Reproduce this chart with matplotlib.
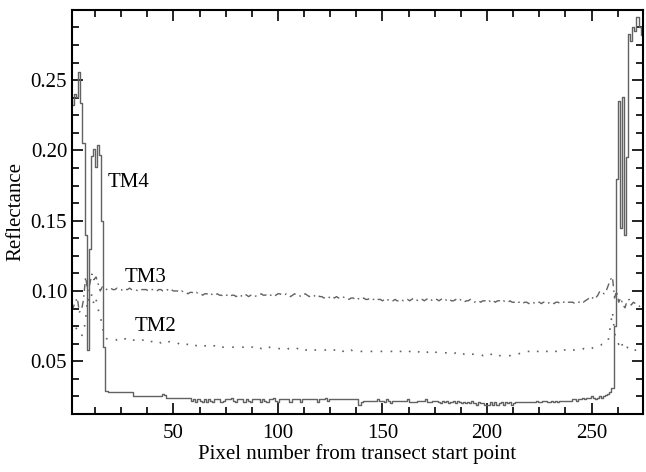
import matplotlib
matplotlib.use("Agg")
import matplotlib.pyplot as plt
from matplotlib.ticker import MultipleLocator

plt.rcParams['font.family'] = ['Liberation Serif', 'DejaVu Serif']

pixel = list(range(1, 275))

tm4 = [
    0.236, 0.232, 0.240, 0.238, 0.256, 0.234, 0.205, 0.140, 0.058, 0.130,
    0.196, 0.201, 0.188, 0.204, 0.197, 0.150, 0.060, 0.029, 0.028, 0.028,
    0.028, 0.028, 0.028, 0.028, 0.028, 0.028, 0.028, 0.028, 0.028, 0.028,
    0.025, 0.025, 0.025, 0.025, 0.025, 0.025, 0.025, 0.025, 0.025, 0.025,
    0.025, 0.025, 0.025, 0.025, 0.027, 0.026, 0.024, 0.024, 0.024, 0.024,
    0.024, 0.024, 0.024, 0.024, 0.024, 0.024, 0.024, 0.024, 0.022, 0.023,
    0.021, 0.023, 0.022, 0.021, 0.023, 0.021, 0.023, 0.022, 0.021, 0.023,
    0.023, 0.023, 0.021, 0.022, 0.023, 0.023, 0.023, 0.024, 0.022, 0.021,
    0.023, 0.023, 0.023, 0.021, 0.023, 0.022, 0.021, 0.023, 0.023, 0.023,
    0.023, 0.021, 0.023, 0.022, 0.021, 0.023, 0.023, 0.024, 0.022, 0.021,
    0.023, 0.023, 0.023, 0.023, 0.023, 0.021, 0.023, 0.023, 0.023, 0.023,
    0.021, 0.023, 0.023, 0.023, 0.023, 0.023, 0.023, 0.023, 0.021, 0.023,
    0.023, 0.023, 0.024, 0.022, 0.023, 0.023, 0.023, 0.023, 0.023, 0.023,
    0.023, 0.023, 0.023, 0.023, 0.023, 0.023, 0.023, 0.023, 0.019, 0.021,
    0.022, 0.022, 0.022, 0.022, 0.022, 0.022, 0.022, 0.023, 0.022, 0.022,
    0.021, 0.023, 0.022, 0.020, 0.022, 0.022, 0.022, 0.022, 0.022, 0.022,
    0.022, 0.023, 0.021, 0.021, 0.021, 0.021, 0.022, 0.022, 0.022, 0.022,
    0.023, 0.021, 0.021, 0.022, 0.022, 0.022, 0.021, 0.020, 0.022, 0.021,
    0.022, 0.020, 0.021, 0.022, 0.020, 0.022, 0.021, 0.020, 0.021, 0.020,
    0.021, 0.020, 0.022, 0.020, 0.019, 0.021, 0.020, 0.020, 0.019, 0.019,
    0.019, 0.021, 0.019, 0.021, 0.019, 0.020, 0.021, 0.019, 0.021, 0.020,
    0.021, 0.019, 0.020, 0.021, 0.021, 0.021, 0.021, 0.021, 0.021, 0.021,
    0.021, 0.021, 0.021, 0.022, 0.021, 0.021, 0.022, 0.022, 0.021, 0.021,
    0.022, 0.021, 0.022, 0.021, 0.022, 0.022, 0.022, 0.022, 0.022, 0.022,
    0.023, 0.023, 0.022, 0.023, 0.023, 0.024, 0.023, 0.024, 0.024, 0.025,
    0.024, 0.023, 0.024, 0.025, 0.024, 0.025, 0.026, 0.027, 0.028, 0.031,
    0.075, 0.180, 0.235, 0.145, 0.238, 0.140, 0.195, 0.283, 0.278, 0.288,
    0.285, 0.295, 0.288, 0.282,
]

tm3 = [
    0.090, 0.088, 0.092, 0.095, 0.085, 0.086, 0.094, 0.110, 0.100, 0.105,
    0.112, 0.108, 0.110, 0.105, 0.100, 0.103, 0.102, 0.101, 0.102, 0.102,
    0.101, 0.101, 0.102, 0.101, 0.101, 0.100, 0.101, 0.101, 0.102, 0.101,
    0.101, 0.101, 0.100, 0.101, 0.101, 0.101, 0.101, 0.100, 0.101, 0.101,
    0.101, 0.100, 0.101, 0.101, 0.100, 0.100, 0.101, 0.100, 0.101, 0.100,
    0.100, 0.100, 0.099, 0.100, 0.099, 0.099, 0.098, 0.099, 0.099, 0.098,
    0.099, 0.098, 0.098, 0.097, 0.098, 0.098, 0.097, 0.098, 0.097, 0.097,
    0.098, 0.097, 0.097, 0.096, 0.097, 0.097, 0.096, 0.097, 0.097, 0.096,
    0.097, 0.096, 0.097, 0.098, 0.097, 0.096, 0.097, 0.097, 0.096, 0.097,
    0.097, 0.098, 0.097, 0.097, 0.098, 0.097, 0.097, 0.096, 0.097, 0.098,
    0.098, 0.097, 0.097, 0.098, 0.097, 0.096, 0.097, 0.098, 0.097, 0.097,
    0.096, 0.097, 0.098, 0.097, 0.096, 0.097, 0.097, 0.096, 0.097, 0.096,
    0.096, 0.095, 0.096, 0.096, 0.095, 0.096, 0.095, 0.096, 0.095, 0.095,
    0.096, 0.095, 0.095, 0.094, 0.095, 0.095, 0.094, 0.095, 0.094, 0.094,
    0.095, 0.094, 0.094, 0.095, 0.094, 0.094, 0.093, 0.094, 0.094, 0.093,
    0.094, 0.093, 0.094, 0.093, 0.093, 0.094, 0.093, 0.093, 0.094, 0.093,
    0.094, 0.094, 0.093, 0.094, 0.095, 0.094, 0.093, 0.094, 0.094, 0.093,
    0.094, 0.095, 0.094, 0.093, 0.094, 0.094, 0.093, 0.094, 0.095, 0.094,
    0.093, 0.094, 0.093, 0.093, 0.094, 0.093, 0.094, 0.093, 0.092, 0.093,
    0.093, 0.094, 0.093, 0.092, 0.093, 0.093, 0.092, 0.093, 0.093, 0.092,
    0.093, 0.092, 0.093, 0.092, 0.093, 0.093, 0.092, 0.093, 0.092, 0.092,
    0.093, 0.092, 0.092, 0.093, 0.092, 0.092, 0.091, 0.092, 0.092, 0.091,
    0.092, 0.092, 0.091, 0.092, 0.092, 0.091, 0.092, 0.092, 0.091, 0.092,
    0.092, 0.091, 0.092, 0.092, 0.091, 0.092, 0.092, 0.091, 0.092, 0.092,
    0.092, 0.091, 0.092, 0.092, 0.093, 0.092, 0.093, 0.094, 0.095, 0.094,
    0.096, 0.095, 0.097, 0.100, 0.099, 0.098, 0.100, 0.104, 0.108, 0.110,
    0.095, 0.100, 0.092, 0.095, 0.090, 0.088, 0.093, 0.094, 0.090, 0.092,
    0.091, 0.090, 0.089, 0.090,
]

tm2 = [
    0.080, 0.078, 0.075, 0.072, 0.070, 0.068, 0.070, 0.080, 0.095, 0.092,
    0.098, 0.090, 0.094, 0.087, 0.082, 0.075, 0.068, 0.066, 0.066, 0.066,
    0.066, 0.066, 0.065, 0.066, 0.066, 0.065, 0.066, 0.065, 0.065, 0.066,
    0.065, 0.065, 0.065, 0.064, 0.065, 0.065, 0.064, 0.065, 0.064, 0.064,
    0.065, 0.064, 0.064, 0.063, 0.064, 0.064, 0.063, 0.064, 0.063, 0.063,
    0.063, 0.063, 0.062, 0.063, 0.062, 0.062, 0.062, 0.062, 0.061, 0.062,
    0.061, 0.061, 0.061, 0.062, 0.061, 0.061, 0.061, 0.060, 0.061, 0.061,
    0.060, 0.061, 0.060, 0.060, 0.060, 0.060, 0.060, 0.060, 0.060, 0.060,
    0.060, 0.060, 0.060, 0.060, 0.060, 0.059, 0.060, 0.060, 0.059, 0.060,
    0.060, 0.059, 0.060, 0.059, 0.059, 0.060, 0.059, 0.059, 0.059, 0.059,
    0.059, 0.059, 0.059, 0.058, 0.059, 0.059, 0.059, 0.058, 0.059, 0.059,
    0.058, 0.059, 0.058, 0.058, 0.059, 0.058, 0.058, 0.058, 0.058, 0.058,
    0.058, 0.058, 0.058, 0.058, 0.057, 0.058, 0.058, 0.057, 0.058, 0.058,
    0.057, 0.058, 0.057, 0.057, 0.058, 0.057, 0.057, 0.057, 0.057, 0.057,
    0.057, 0.057, 0.057, 0.057, 0.057, 0.057, 0.057, 0.057, 0.057, 0.057,
    0.057, 0.057, 0.057, 0.057, 0.057, 0.058, 0.057, 0.057, 0.057, 0.057,
    0.057, 0.056, 0.057, 0.057, 0.056, 0.057, 0.057, 0.056, 0.057, 0.057,
    0.056, 0.057, 0.056, 0.056, 0.057, 0.056, 0.056, 0.056, 0.056, 0.056,
    0.056, 0.056, 0.056, 0.055, 0.056, 0.056, 0.055, 0.056, 0.055, 0.055,
    0.056, 0.055, 0.055, 0.055, 0.055, 0.055, 0.055, 0.054, 0.055, 0.055,
    0.054, 0.055, 0.054, 0.054, 0.055, 0.054, 0.054, 0.054, 0.054, 0.054,
    0.054, 0.054, 0.055, 0.055, 0.055, 0.056, 0.056, 0.056, 0.057, 0.057,
    0.057, 0.056, 0.057, 0.057, 0.057, 0.056, 0.057, 0.057, 0.057, 0.057,
    0.057, 0.058, 0.057, 0.057, 0.058, 0.057, 0.058, 0.058, 0.057, 0.058,
    0.058, 0.058, 0.058, 0.058, 0.058, 0.059, 0.058, 0.059, 0.059, 0.059,
    0.060, 0.060, 0.060, 0.061, 0.062, 0.062, 0.063, 0.065, 0.075, 0.085,
    0.070, 0.065, 0.062, 0.065, 0.060, 0.058, 0.060, 0.058, 0.058, 0.057,
    0.058, 0.059, 0.058, 0.058,
]

line_color = "#626262"

fig = plt.figure(figsize=(6.46, 4.72), dpi=100)
ax = fig.add_axes([0.1115, 0.123, 0.8835, 0.856])

ax.plot(pixel, tm4, color=line_color, lw=1.0, drawstyle="steps-mid")
ax.plot(pixel, tm3, color=line_color, lw=1.0, linestyle=(0, (5, 3, 1.2, 3)))
ax.plot(pixel, tm2, color=line_color, lw=1.2, linestyle=(0, (1, 5)))

ax.text(36.8, 0.1093, "TM3", fontsize=15, ha="center", va="center")
ax.text(41.6, 0.075, "TM2", fontsize=15, ha="center", va="center")
ax.text(28.5, 0.177, "TM4", fontsize=15, ha="center", va="center")

ax.set_xlim(1.5, 274.5)
ax.set_ylim(0.0125, 0.30)
ax.xaxis.set_major_locator(MultipleLocator(50))
ax.xaxis.set_minor_locator(MultipleLocator(12.5))
ax.yaxis.set_major_locator(MultipleLocator(0.05))
ax.yaxis.set_minor_locator(MultipleLocator(0.0125))
ax.set_yticks([0.05, 0.10, 0.15, 0.20, 0.25])
ax.set_yticklabels(["0.05", "0.10", "0.15", "0.20", "0.25"])
ax.tick_params(which="both", direction="in", top=True, right=True,
               labelsize=15, width=1.2, colors="black")
ax.tick_params(which="major", length=8)
ax.tick_params(which="minor", length=5)
ax.tick_params(axis="x", which="major", pad=7)
for sp in ax.spines.values():
    sp.set_linewidth(1.5)

ax.set_xlabel("Pixel number from transect start point", fontsize=15, labelpad=1)
ax.set_ylabel("Reflectance", fontsize=15, labelpad=4)

fig.savefig("out.png", dpi=100)
